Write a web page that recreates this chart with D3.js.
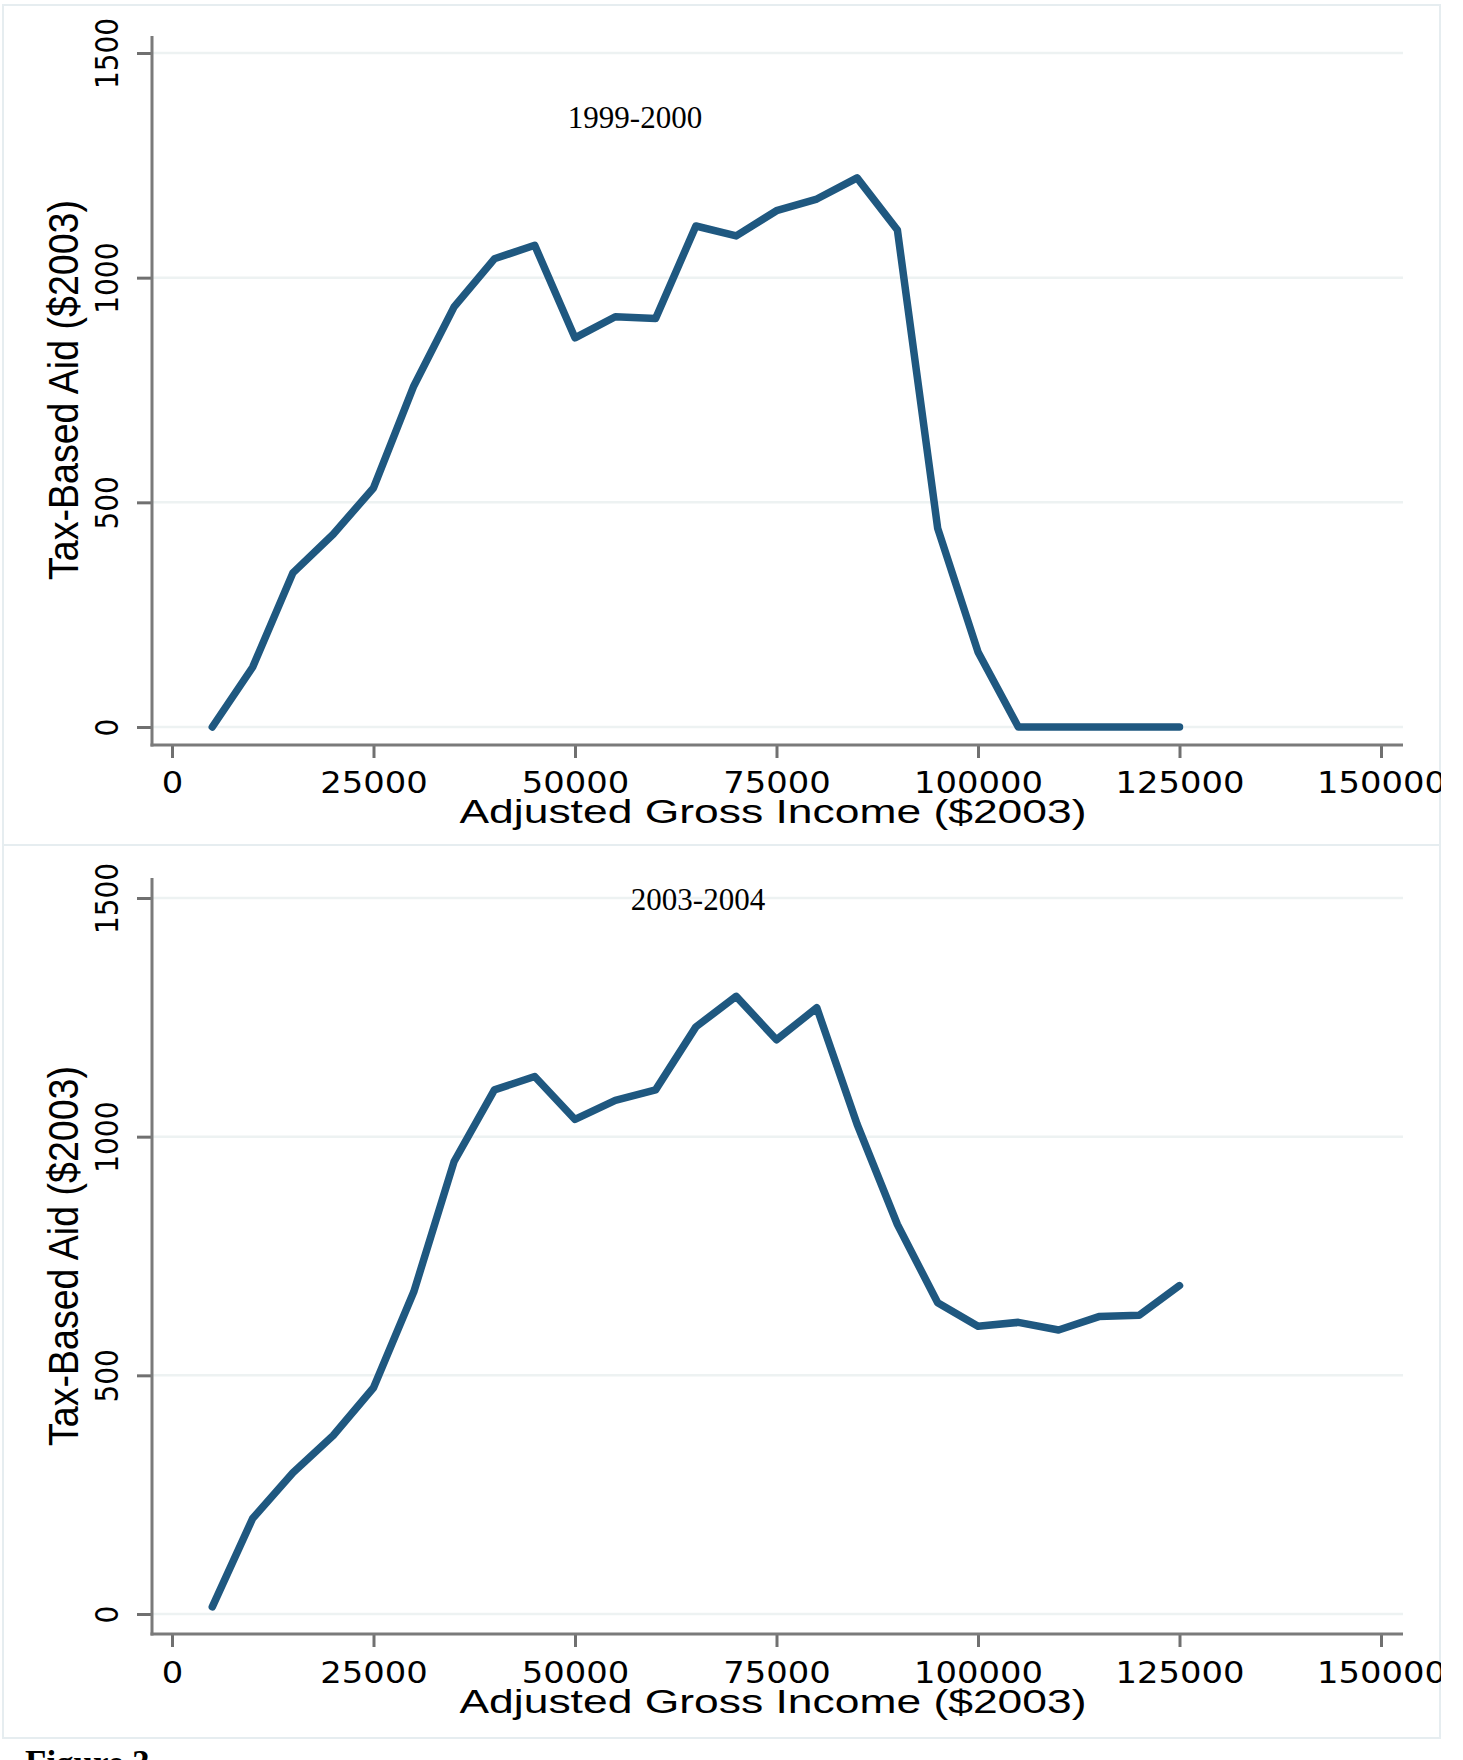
<!DOCTYPE html>
<html>
<head>
<meta charset="utf-8">
<script src="https://cdn.jsdelivr.net/npm/d3@7/dist/d3.min.js"></script>
<style>
  body { margin: 0; background: #fff; }
  svg { display: block; }
</style>
</head>
<body>
<script>

// income brackets, Adjusted Gross Income ($2003)
var income = [5000, 10000, 15000, 20000, 25000, 30000, 35000, 40000, 45000, 50000,
              55000, 60000, 65000, 70000, 75000, 80000, 85000, 90000, 95000, 100000,
              105000, 110000, 115000, 120000, 125000];

// tax-based aid ($2003)
var aid1999 = [0, 133, 343, 429, 532, 759, 935, 1042, 1072, 866,
               913, 909, 1115, 1093, 1149, 1175, 1222, 1106, 442, 167,
               0, 0, 0, 0, 0];
var aid2003 = [15, 200, 296, 374, 474, 675, 948, 1098, 1126, 1036,
               1076, 1098, 1230, 1294, 1203, 1270, 1026, 816, 652, 603,
               611, 595, 623, 626, 688];

var xTicks = [0, 25000, 50000, 75000, 100000, 125000, 150000];
var yTicks = [0, 500, 1000, 1500];
var panelTitles = ['1999-2000', '2003-2004'];
var xTitle = 'Adjusted Gross Income ($2003)';
var yTitle = 'Tax-Based Aid ($2003)';

var W = 1463, H = 1760;
var lineColor = '#1f5880';

var svg = d3.select('body').append('svg')
    .attr('width', W)
    .attr('height', H);

/*
 * layout of the two stacked Stata panels (pixels)
 */
var layout = [
    { top: 5,   bottom: 845,  yZero: 727,  yTop: 53,  axisTop: 36,  xAxisY: 745,
      titleX: 635, titleY: 128, tickY: 793,  xTitleY: 823 },
    { top: 845, bottom: 1738, yZero: 1614, yTop: 898, axisTop: 878, xAxisY: 1634,
      titleX: 698, titleY: 910, tickY: 1683, xTitleY: 1713 }
];
var series = [aid1999, aid2003];

var yAxisX = 152, plotRight = 1403, frameRight = 1440;

function drawPanel(p, i)
{
    var defs = svg.append('defs');
    defs.append('clipPath').attr('id', 'clip' + i)
        .append('rect')
            .attr('x', 0).attr('y', p.top)
            .attr('width', frameRight + 1).attr('height', p.bottom - p.top);

    // graph region outline
    svg.append('rect')
        .attr('x', 3).attr('y', p.top)
        .attr('width', frameRight - 3).attr('height', p.bottom - p.top)
        .attr('fill', 'none')
        .attr('stroke', '#e6edf0')
        .attr('stroke-width', 2);

    var g = svg.append('g').attr('clip-path', 'url(#clip' + i + ')');

    var x = d3.scaleLinear().domain([0, 150000]).range([172, 1381]);
    var y = d3.scaleLinear().domain([0, 1500]).range([p.yZero, p.yTop]);

    // horizontal gridlines
    g.selectAll('line.grid')
        .data(yTicks)
        .join('line')
            .attr('class', 'grid')
            .attr('x1', yAxisX).attr('x2', plotRight)
            .attr('y1', function(d) { return y(d); })
            .attr('y2', function(d) { return y(d); })
            .attr('stroke', '#edf2f2')
            .attr('stroke-width', 2.5);

    // y axis
    var ya = g.append('g')
        .attr('transform', 'translate(' + yAxisX + ',0)')
        .call(d3.axisLeft(y).tickValues(yTicks).tickSize(15).tickFormat(d3.format('d')));
    ya.select('.domain').remove();
    ya.selectAll('.tick line').attr('stroke', '#707070').attr('stroke-width', 3);
    ya.selectAll('.tick text')
        .attr('x', 0).attr('y', 0).attr('dy', null)
        .attr('text-anchor', 'middle')
        .attr('transform', 'translate(-34,0) rotate(-90) scale(1,1.15)')
        .attr('fill', '#000')
        .style('font-family', '"DejaVu Sans", Verdana, sans-serif')
        .style('font-size', '28px');

    // x axis
    var xa = g.append('g')
        .attr('transform', 'translate(0,' + p.xAxisY + ')')
        .call(d3.axisBottom(x).tickValues(xTicks).tickSize(13).tickFormat(d3.format('d')));
    xa.select('.domain').remove();
    xa.selectAll('.tick line').attr('stroke', '#707070').attr('stroke-width', 3);
    xa.selectAll('.tick text')
        .attr('y', p.tickY - p.xAxisY).attr('dy', null)
        .attr('transform', 'scale(1.09,1)')
        .attr('fill', '#000')
        .style('font-family', '"DejaVu Sans", Verdana, sans-serif')
        .style('font-size', '31px');

    // axis lines
    g.append('line')
        .attr('x1', yAxisX).attr('x2', yAxisX)
        .attr('y1', p.axisTop).attr('y2', p.xAxisY + 1.5)
        .attr('stroke', '#7a7a7a').attr('stroke-width', 3);
    g.append('line')
        .attr('x1', yAxisX - 1.5).attr('x2', plotRight)
        .attr('y1', p.xAxisY).attr('y2', p.xAxisY)
        .attr('stroke', '#7a7a7a').attr('stroke-width', 3);

    // the series
    var pts = income.map(function(d, k) { return [d, series[i][k]]; });
    g.append('path')
        .datum(pts)
        .attr('d', d3.line()
            .x(function(d) { return x(d[0]); })
            .y(function(d) { return y(d[1]); }))
        .attr('fill', 'none')
        .attr('stroke', lineColor)
        .attr('stroke-width', 7.5)
        .attr('stroke-linejoin', 'round')
        .attr('stroke-linecap', 'round');

    // panel title
    g.append('text')
        .attr('x', p.titleX).attr('y', p.titleY)
        .attr('text-anchor', 'middle')
        .style('font-family', '"Liberation Serif", "Times New Roman", serif')
        .style('font-size', '31px')
        .text(panelTitles[i]);

    // axis titles
    g.append('text')
        .attr('x', 773).attr('y', p.xTitleY)
        .attr('text-anchor', 'middle')
        .attr('textLength', 627)
        .attr('lengthAdjust', 'spacingAndGlyphs')
        .style('font-family', '"Liberation Sans", Arial, sans-serif')
        .style('font-size', '33.5px')
        .text(xTitle);

    g.append('text')
        .attr('transform', 'translate(78,' + (p.yZero + p.yTop) / 2 + ') rotate(-90) scale(1,1.2)')
        .attr('text-anchor', 'middle')
        .attr('textLength', 380)
        .attr('lengthAdjust', 'spacingAndGlyphs')
        .style('font-family', '"Liberation Sans", Arial, sans-serif')
        .style('font-size', '36px')
        .text(yTitle);
}

layout.forEach(drawPanel);

// caption, cut off at the bottom edge of the page
svg.append('text')
    .attr('x', 25).attr('y', 1775)
    .style('font-family', '"Liberation Serif", "Times New Roman", serif')
    .style('font-weight', 'bold')
    .style('font-size', '35px')
    .text('Figure 3');

</script>
</body>
</html>
